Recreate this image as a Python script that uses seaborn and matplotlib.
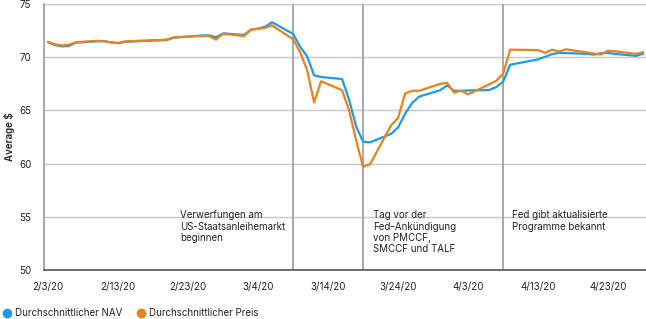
import pandas as pd
import numpy as np
import matplotlib
matplotlib.use("Agg")
import matplotlib.pyplot as plt
import matplotlib.dates as mdates
from matplotlib.lines import Line2D
import seaborn as sns

# Handelstage (ohne Wochenenden / Feiertage)
daten = ["2020-02-03", "2020-02-04", "2020-02-05", "2020-02-06", "2020-02-07",
         "2020-02-10", "2020-02-11", "2020-02-12", "2020-02-13", "2020-02-14",
         "2020-02-18", "2020-02-19", "2020-02-20", "2020-02-21",
         "2020-02-24", "2020-02-25", "2020-02-26", "2020-02-27", "2020-02-28",
         "2020-03-02", "2020-03-03", "2020-03-04", "2020-03-05", "2020-03-06",
         "2020-03-09", "2020-03-10", "2020-03-11", "2020-03-12", "2020-03-13",
         "2020-03-16", "2020-03-17", "2020-03-18", "2020-03-19", "2020-03-20",
         "2020-03-23", "2020-03-24", "2020-03-25", "2020-03-26", "2020-03-27",
         "2020-03-30", "2020-03-31", "2020-04-01", "2020-04-02", "2020-04-03",
         "2020-04-06", "2020-04-07", "2020-04-08", "2020-04-09",
         "2020-04-13", "2020-04-14", "2020-04-15", "2020-04-16", "2020-04-17",
         "2020-04-20", "2020-04-21", "2020-04-22", "2020-04-23", "2020-04-24",
         "2020-04-27", "2020-04-28"]

nav = [71.42, 71.15, 71.02, 71.08, 71.38,
       71.50, 71.52, 71.42, 71.32, 71.45,
       71.58, 71.60, 71.62, 71.85,
       72.00, 72.05, 72.06, 71.88, 72.25,
       72.10, 72.60, 72.70, 72.88, 73.30,
       72.20, 71.00, 70.10, 68.30, 68.15,
       67.95, 66.00, 63.50, 62.05, 62.00,
       62.80, 63.40, 64.70, 65.70, 66.30,
       66.90, 67.35, 66.85, 66.85, 66.88,
       66.92, 67.20, 67.70, 69.30,
       69.80, 70.05, 70.30, 70.42, 70.40,
       70.32, 70.25, 70.40, 70.40, 70.32,
       70.13, 70.35]

preis = [71.45, 71.22, 71.12, 71.18, 71.42,
         71.55, 71.52, 71.38, 71.35, 71.50,
         71.60, 71.62, 71.68, 71.88,
         71.98, 72.00, 72.00, 71.66, 72.22,
         72.00, 72.60, 72.68, 72.78, 73.00,
         71.70, 70.50, 68.80, 65.75, 67.75,
         66.90, 65.00, 62.20, 59.70, 59.95,
         63.60, 64.30, 66.60, 66.85, 66.85,
         67.50, 67.60, 66.68, 66.85, 66.52,
         67.45, 67.78, 68.47, 70.72,
         70.68, 70.42, 70.72, 70.55, 70.75,
         70.45, 70.34, 70.28, 70.62, 70.56,
         70.32, 70.48]

tick_daten = ["2020-02-03", "2020-02-13", "2020-02-23", "2020-03-04", "2020-03-14",
              "2020-03-24", "2020-04-03", "2020-04-13", "2020-04-23"]
tick_labels = ["2/3/20", "2/13/20", "2/23/20", "3/4/20", "3/14/20",
               "3/24/20", "4/3/20", "4/13/20", "4/23/20"]

ereignis_daten = ["2020-03-09", "2020-03-19", "2020-04-08"]
ereignis_texte = ["Verwerfungen am\nUS-Staatsanleihemarkt\nbeginnen",
                  "Tag vor der\nFed-Ankündigung\nvon PMCCF,\nSMCCF und TALF",
                  "Fed gibt aktualisierte\nProgramme bekannt"]
text_daten = ["2020-02-21 20:00", "2020-03-20 10:00", "2020-04-09 05:00"]

blau = "#1f9be6"
orange = "#e8821e"

df = pd.DataFrame({"Datum": pd.to_datetime(daten), "NAV": nav, "Preis": preis})

sns.set_style("white")
plt.rcParams["font.family"] = ["Inter", "DejaVu Sans"]

fig = plt.figure(figsize=(6.46, 3.19), dpi=100)
ax = fig.add_axes([0.068, 0.154, 0.932, 0.833])

sns.lineplot(data=df, x="Datum", y="NAV", color=blau, linewidth=1.6, ax=ax)
sns.lineplot(data=df, x="Datum", y="Preis", color=orange, linewidth=1.6, ax=ax)

start = pd.Timestamp("2020-02-03")
ax.set_xlim(start - pd.Timedelta(hours=14), start + pd.Timedelta(days=85.4))
ax.set_ylim(50, 75)
ax.set_yticks([50, 55, 60, 65, 70, 75])
ax.yaxis.grid(True, color="#c8c8c8", linewidth=1)
ax.xaxis.grid(False)
ax.set_xticks(pd.to_datetime(tick_daten))
ax.set_xticklabels(tick_labels)
ax.tick_params(axis="both", length=0, labelsize=7, colors="#222222")
ax.tick_params(axis="x", pad=9)
ax.tick_params(axis="y", pad=9)

for d in ereignis_daten:
    ax.axvline(pd.Timestamp(d), color="#9a9a9a", linewidth=1.2, zorder=1)

for d, t in zip(text_daten, ereignis_texte):
    ax.text(pd.Timestamp(d), 55.6, t, fontsize=7, va="top", ha="left",
            color="#222222", linespacing=1.15)

for s in ["top", "right"]:
    ax.spines[s].set_visible(False)
ax.spines["left"].set_color("#9a9a9a")
ax.spines["left"].set_linewidth(1.2)
ax.spines["bottom"].set_color("#555555")
ax.spines["bottom"].set_linewidth(1.2)

ax.set_xlabel("")
ax.set_ylabel("Average $", fontsize=7, color="#222222", labelpad=3,
              fontweight="semibold")

handles = [Line2D([], [], marker="o", linestyle="", color=blau, markersize=6),
           Line2D([], [], marker="o", linestyle="", color=orange, markersize=6)]
fig.legend(handles, ["Durchschnittlicher NAV", "Durchschnittlicher Preis"],
           loc="lower left", bbox_to_anchor=(-0.012, -0.025), ncol=2, frameon=False,
           fontsize=7, handletextpad=0.2, columnspacing=1.4, handlelength=1.2,
           labelcolor="#222222")

fig.savefig("out.png", dpi=100)
